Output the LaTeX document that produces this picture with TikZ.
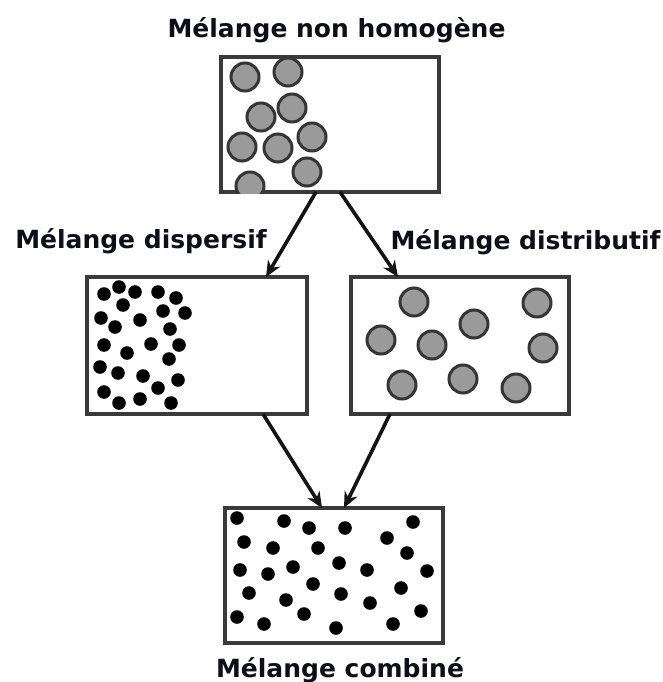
\documentclass[tikz,border=0pt]{standalone}
\usepackage{fontspec}
\setmainfont{DejaVu Sans}
\usetikzlibrary{arrows.meta}
\definecolor{edgecol}{HTML}{3A3A3A}
\definecolor{ballfill}{HTML}{9A9A9A}
\definecolor{ballrim}{HTML}{353535}
\definecolor{labcol}{HTML}{0E0E1A}
\tikzset{
  boxstyle/.style={draw=edgecol, line width=3.2pt, inner sep=0pt, outer sep=0pt, fill=white},
  labstyle/.style={anchor=base, inner sep=0pt, text=labcol, font=\fontsize{25}{30}\selectfont\bfseries},
  arr/.style={line width=3.6pt, draw=black!92, -{Stealth[length=16pt,width=14pt]}},
  ball/.style={fill=ballfill, draw=ballrim, line width=3pt},
  dot/.style={fill=black}
}
\begin{document}
\begin{tikzpicture}[x=1pt,y=-1pt]
\useasboundingbox[fill=white] (0,0) rectangle (662,682);

% boxes
\node[boxstyle, minimum width=218pt, minimum height=135pt] (top) at (330,124.5) {};
\node[boxstyle, minimum width=220pt, minimum height=137pt] (ml) at (197,345.5) {};
\node[boxstyle, minimum width=218pt, minimum height=137pt] (mr) at (460,345.5) {};
\node[boxstyle, minimum width=218pt, minimum height=135pt] (bot) at (334,575.5) {};

% labels
\node[labstyle] (t1) at (336.5,38) {Mélange non homogène};
\node[labstyle] (t2) at (141,248) {Mélange dispersif};
\node[labstyle] (t3) at (525.5,249) {Mélange distributif};
\node[labstyle] (t4) at (340,677) {Mélange combiné};

% top box balls
\begin{scope}
\clip ([shift={(1.6pt,-1.6pt)}]top.south west) rectangle ([shift={(-1.6pt,1.6pt)}]top.north east);
\foreach \x/\y in {245/77, 288/72, 292/108, 261/117, 242/147, 278/148, 312/137, 307/172, 250/186}
  \draw[ball] (\x,\y) circle (14pt);
\end{scope}

% distributive box balls
\foreach \x/\y in {414/302, 537/303, 474/324, 381/340, 432/345, 543/348, 402/385, 463/379, 516/388}
  \draw[ball] (\x,\y) circle (14pt);

% dispersive box dots
\foreach \x/\y in {104/294, 119/287, 135/292, 158/292, 176/298, 123/305, 163/311, 185/313,
  101/318, 115/327, 140/320, 170/329, 104/345, 151/344, 179/345, 127/353, 169/359,
  100/367, 118/373, 143/376, 178/380, 104/392, 158/388, 119/403, 140/399, 171/403}
  \fill[dot] (\x,\y) circle (6.8pt);

% combined box dots
\foreach \x/\y in {237/518, 284/521, 309/528, 345/528, 413/522, 244/542, 273/548, 318/548,
  387/538, 407/553, 240/570, 268/574, 293/567, 339/563, 367/570, 427/571, 249/593,
  313/584, 286/600, 341/594, 370/603, 401/588, 237/617, 264/624, 304/614, 336/628,
  393/624, 421/611}
  \fill[dot] (\x,\y) circle (6.8pt);

% arrows
\draw[arr] ([xshift=95pt]top.south west) -- ([xshift=179pt]ml.north west);
\draw[arr] ([xshift=119pt]top.south west) -- ([xshift=47pt]mr.north west);
\draw[arr] ([xshift=176pt]ml.south west) -- ([xshift=97pt]bot.north west);
\draw[arr] ([xshift=39pt]mr.south west) -- ([xshift=119pt]bot.north west);
\end{tikzpicture}
\end{document}
